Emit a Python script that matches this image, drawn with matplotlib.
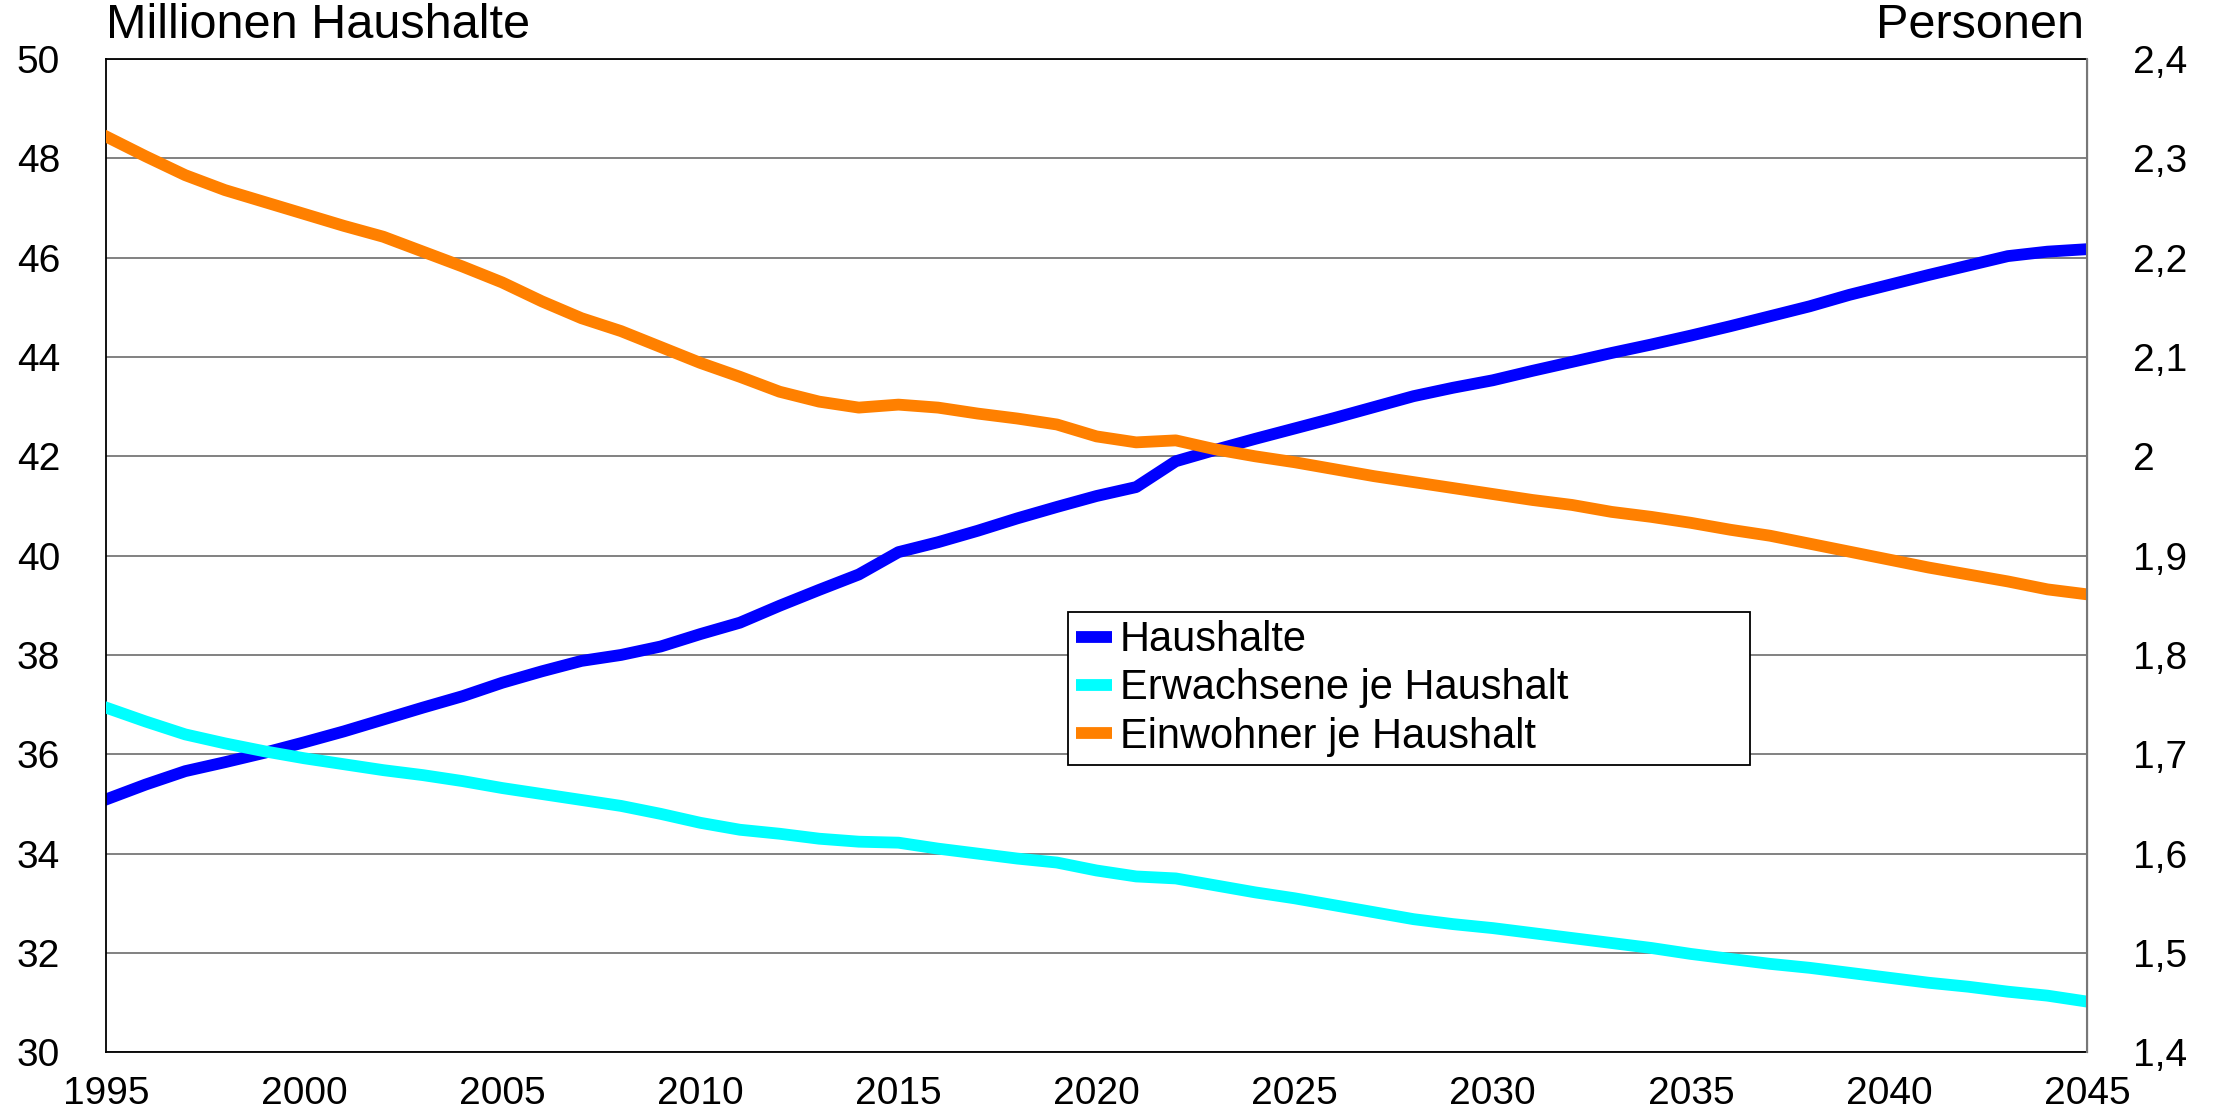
"""Haushalte und Haushaltsgroesse 1995-2045 (Linienchart mit zwei y-Achsen)."""

import matplotlib
matplotlib.use("Agg")
import matplotlib.pyplot as plt
from matplotlib.lines import Line2D

# data
years = list(range(1995, 2046))

haushalte = [35.09, 35.39, 35.66, 35.84, 36.03, 36.24, 36.46, 36.70, 36.94, 37.17,
             37.44, 37.67, 37.88, 38.00, 38.17, 38.42, 38.65, 38.99, 39.31, 39.62,
             40.07, 40.27, 40.50, 40.75, 40.98, 41.20, 41.38, 41.90, 42.13, 42.35,
             42.56, 42.77, 42.99, 43.21, 43.38, 43.53, 43.72, 43.90, 44.08, 44.25,
             44.43, 44.62, 44.82, 45.02, 45.25, 45.45, 45.65, 45.84, 46.03, 46.12,
             46.17]

erwachsene = [1.747, 1.733, 1.720, 1.711, 1.703, 1.696, 1.690, 1.684, 1.679, 1.673,
              1.666, 1.660, 1.654, 1.648, 1.640, 1.631, 1.624, 1.620, 1.615, 1.612,
              1.611, 1.605, 1.600, 1.595, 1.591, 1.583, 1.577, 1.575, 1.568, 1.561,
              1.555, 1.548, 1.541, 1.534, 1.529, 1.525, 1.520, 1.515, 1.510, 1.505,
              1.499, 1.494, 1.489, 1.485, 1.480, 1.475, 1.470, 1.466, 1.461, 1.457,
              1.451]

einwohner = [2.322, 2.302, 2.283, 2.268, 2.256, 2.244, 2.232, 2.221, 2.206, 2.191,
             2.175, 2.156, 2.139, 2.126, 2.110, 2.094, 2.080, 2.065, 2.055, 2.049,
             2.052, 2.049, 2.043, 2.038, 2.032, 2.020, 2.014, 2.016, 2.007, 2.000,
             1.994, 1.987, 1.980, 1.974, 1.968, 1.962, 1.956, 1.951, 1.944, 1.939,
             1.933, 1.926, 1.920, 1.912, 1.904, 1.896, 1.888, 1.881, 1.874, 1.866,
             1.861]

series_names = ["Haushalte", "Erwachsene je Haushalt", "Einwohner je Haushalt"]

x_ticks = list(range(1995, 2046, 5))
left_ticks = list(range(30, 51, 2))
right_ticks = [1.4, 1.5, 1.6, 1.7, 1.8, 1.9, 2.0, 2.1, 2.2, 2.3, 2.4]
right_tick_labels = ["1,4", "1,5", "1,6", "1,7", "1,8", "1,9", "2", "2,1", "2,2", "2,3", "2,4"]

BLUE = "#0000ff"
CYAN = "#00ffff"
ORANGE = "#ff8000"
GRID = "#777777"
LW = 8.5
TICK_SIZE = 28


def style_axes(ax1, ax2):
    """Sets limits, ticks, grid and spines for both axes."""

    ax1.set_xlim(1995, 2045)
    ax1.set_ylim(30, 50)
    ax2.set_ylim(1.4, 2.4)

    ax1.set_xticks(x_ticks)
    ax1.set_yticks(left_ticks)
    ax2.set_yticks(right_ticks)
    ax2.set_yticklabels(right_tick_labels)

    ax1.tick_params(axis="y", length=0, pad=33, labelsize=TICK_SIZE)
    ax1.tick_params(axis="x", length=0, pad=17, labelsize=TICK_SIZE)
    ax2.tick_params(axis="y", length=0, pad=33, labelsize=TICK_SIZE)

    ax1.grid(axis="y", color=GRID, linewidth=1.3)
    ax1.set_axisbelow(True)

    for name in ["left", "top", "bottom"]:
        ax1.spines[name].set_color("black")
        ax1.spines[name].set_linewidth(1.3)
    ax2.spines["right"].set_color(GRID)
    ax2.spines["right"].set_linewidth(1.5)
    for name in ["left", "top", "bottom"]:
        ax2.spines[name].set_visible(False)


def add_legend(ax):
    """Adds the framed legend in the middle right of the plot."""

    handles = [Line2D([], [], color=c, linewidth=LW, solid_capstyle="butt")
               for c in (BLUE, CYAN, ORANGE)]
    leg = ax.legend(handles, series_names, loc="upper left",
                    bbox_to_anchor=(0.4856, 0.2954, 0.3443, 0.148), mode="expand",
                    borderaxespad=0, fontsize=30, frameon=True, fancybox=False,
                    edgecolor="black", handlelength=0.85, handletextpad=0.2,
                    labelspacing=0.2, borderpad=0.2)
    leg.get_frame().set_linewidth(1.3)
    leg.get_frame().set_alpha(1)


def main():
    plt.rcParams["font.family"] = ["Liberation Sans", "DejaVu Sans"]

    fig = plt.figure(figsize=(22.13, 11.08), dpi=100)
    ax1 = fig.add_axes([0.0479, 0.0503, 0.8952, 0.8965])
    ax2 = ax1.twinx()

    ax1.plot(years, haushalte, color=BLUE, linewidth=LW, solid_joinstyle="round")
    ax2.plot(years, erwachsene, color=CYAN, linewidth=LW, solid_joinstyle="round")
    ax2.plot(years, einwohner, color=ORANGE, linewidth=LW, solid_joinstyle="round")

    style_axes(ax1, ax2)
    add_legend(ax2)

    fig.text(0.0479, 0.9657, "Millionen Haushalte", ha="left", va="baseline", fontsize=35)
    fig.text(0.9418, 0.9657, "Personen", ha="right", va="baseline", fontsize=35)

    fig.savefig("out.png", dpi=100)


if __name__ == "__main__":
    main()
